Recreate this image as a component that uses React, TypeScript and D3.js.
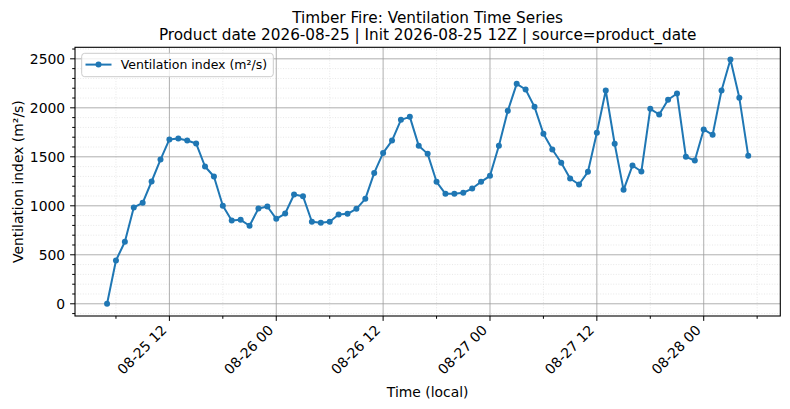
import React from "react";
import * as d3 from "d3";

const titleLines = [
  "Timber Fire: Ventilation Time Series",
  "Product date 2026-08-25 | Init 2026-08-25 12Z | source=product_date",
];
const seriesName = "Ventilation index (m²/s)";
const xLabel = "Time (local)";
const yLabel = "Ventilation index (m²/s)";

// hourly samples, 2026-08-25 05:00 .. 2026-08-28 05:00
const startTime = new Date(Date.UTC(2026, 7, 25, 5));
const endTime = new Date(Date.UTC(2026, 7, 28, 5));
const ventValues = [
  0, 442, 633, 983, 1031, 1248, 1472, 1677, 1687, 1666,
  1636, 1401, 1299, 1000, 850, 857, 796, 972, 993, 867,
  921, 1115, 1098, 837, 826, 837, 911, 918, 969, 1071,
  1336, 1540, 1666, 1877, 1908, 1612, 1530, 1245, 1122, 1122,
  1133, 1176, 1245, 1306, 1612, 1969, 2245, 2187, 2010, 1735,
  1574, 1439, 1279, 1217, 1347, 1745, 2177, 1633, 1163, 1411,
  1350, 1990, 1932, 2082, 2146, 1500, 1462, 1779, 1724, 2177,
  2493, 2102, 1510,
];
const yTickValues = [0, 500, 1000, 1500, 2000, 2500];

const W = 790;
const H = 409;
const M = { left: 75, right: 780.3, top: 47.3, bottom: 316 };
const FONT = "DejaVu Sans, Verdana, sans-serif";
const BLUE = "#1f77b4";

export default function App() {
  const times = d3.utcHour.range(startTime, d3.utcHour.offset(endTime, 1));
  const data = times.map((t, i) => ({ t, v: ventValues[i] }));

  const span = endTime.getTime() - startTime.getTime();
  const x = d3
    .scaleUtc()
    .domain([new Date(startTime.getTime() - span * 0.05), new Date(endTime.getTime() + span * 0.05)])
    .range([M.left, M.right]);
  const vMin = d3.min(ventValues) as number;
  const vMax = d3.max(ventValues) as number;
  const pad = (vMax - vMin) * 0.05;
  const y = d3.scaleLinear().domain([vMin - pad, vMax + pad]).range([M.bottom, M.top]);

  const [d0, d1] = x.domain();
  const xMajor = d3.utcHour.every(12)!.range(d0, d1);
  const xMinor = d3.utcHour.every(6)!.range(d0, d1).filter((d) => d.getUTCHours() % 12 !== 0);
  const [y0, y1] = y.domain();
  const yMinor = d3.range(Math.ceil(y0 / 100) * 100, y1, 100).filter((v) => v % 500 !== 0);
  const fmt = d3.utcFormat("%m-%d %H");

  const line = d3
    .line<{ t: Date; v: number }>()
    .x((d) => x(d.t))
    .y((d) => y(d.v));

  const cx = (M.left + M.right) / 2;
  const cy = (M.top + M.bottom) / 2;

  return (
    <svg
      width={W}
      height={H}
      viewBox={`0 0 ${W} ${H}`}
      style={{ position: "absolute", left: 0, top: 0, background: "#fff" }}
      fontFamily={FONT}
    >
      <rect x={0} y={0} width={W} height={H} fill="#fff" />
      {/* minor grid */}
      <g stroke="#d6d6d6" strokeWidth={0.6} strokeDasharray="1,1.6">
        {yMinor.map((v) => (
          <line key={"ym" + v} x1={M.left} x2={M.right} y1={y(v)} y2={y(v)} />
        ))}
        {xMinor.map((d) => (
          <line key={"xm" + d.getTime()} x1={x(d)} x2={x(d)} y1={M.top} y2={M.bottom} />
        ))}
      </g>
      {/* major grid */}
      <g stroke="#9a9a9a" strokeWidth={0.8}>
        {yTickValues.map((v) => (
          <line key={"yg" + v} x1={M.left} x2={M.right} y1={y(v)} y2={y(v)} />
        ))}
        {xMajor.map((d) => (
          <line key={"xg" + d.getTime()} x1={x(d)} x2={x(d)} y1={M.top} y2={M.bottom} />
        ))}
      </g>
      {/* series */}
      <path d={line(data) || ""} fill="none" stroke={BLUE} strokeWidth={2} strokeLinejoin="round" />
      {data.map((d, i) => (
        <circle key={i} cx={x(d.t)} cy={y(d.v)} r={3} fill={BLUE} />
      ))}
      {/* spines */}
      <rect
        x={M.left}
        y={M.top}
        width={M.right - M.left}
        height={M.bottom - M.top}
        fill="none"
        stroke="#000"
        strokeWidth={1.1}
      />
      {/* ticks */}
      <g stroke="#000" strokeWidth={1}>
        {yTickValues.map((v) => (
          <line key={"yt" + v} x1={M.left - 4.9} x2={M.left} y1={y(v)} y2={y(v)} />
        ))}
        {yMinor.map((v) => (
          <line key={"ymt" + v} x1={M.left - 2.8} x2={M.left} y1={y(v)} y2={y(v)} />
        ))}
        {xMajor.map((d) => (
          <line key={"xt" + d.getTime()} x1={x(d)} x2={x(d)} y1={M.bottom} y2={M.bottom + 4.9} />
        ))}
        {xMinor.map((d) => (
          <line key={"xmt" + d.getTime()} x1={x(d)} x2={x(d)} y1={M.bottom} y2={M.bottom + 2.8} />
        ))}
      </g>
      <g fontSize={13.9} fill="#000">
        {yTickValues.map((v) => (
          <text key={"yl" + v} x={M.left - 9.8} y={y(v)} textAnchor="end" dominantBaseline="central">
            {v}
          </text>
        ))}
        {xMajor.map((d) => (
          <text
            key={"xl" + d.getTime()}
            transform={`translate(${x(d) - 5.5},${M.bottom + 11.5}) rotate(-45)`}
            textAnchor="end"
            dominantBaseline="central"
          >
            {fmt(d)}
          </text>
        ))}
      </g>
      {/* axis labels */}
      <text x={cx} y={397} textAnchor="middle" fontSize={13.9}>
        {xLabel}
      </text>
      <text
        transform={`translate(23,${cy}) rotate(-90)`}
        textAnchor="middle"
        fontSize={13.9}
      >
        {yLabel}
      </text>
      {/* title */}
      <g fontSize={15.28} textAnchor="middle">
        <text x={cx} y={22.5}>
          {titleLines[0]}
        </text>
        <text x={cx} y={40}>
          {titleLines[1]}
        </text>
      </g>
      {/* legend */}
      <g>
        <rect
          x={81.7}
          y={53.3}
          width={191.6}
          height={23.4}
          rx={3}
          fill="#fff"
          fillOpacity={0.8}
          stroke="#cccccc"
          strokeWidth={1}
        />
        <line x1={85.5} x2={111.5} y1={64.6} y2={64.6} stroke={BLUE} strokeWidth={2} />
        <circle cx={98.5} cy={64.6} r={3} fill={BLUE} />
        <text x={120.7} y={69.2} fontSize={12.5}>
          {seriesName}
        </text>
      </g>
    </svg>
  );
}
